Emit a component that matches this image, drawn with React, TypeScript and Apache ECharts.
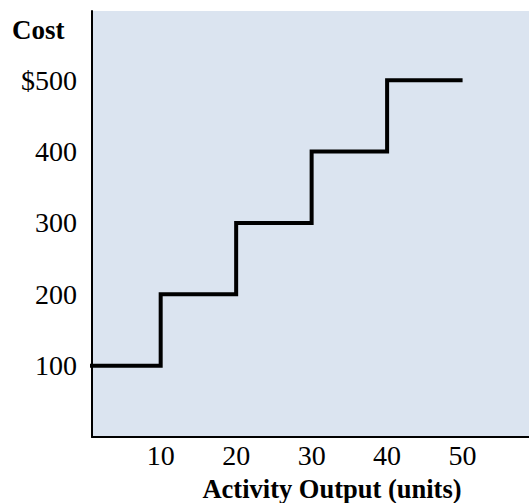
import React, { useEffect, useRef } from "react";
import * as echarts from "echarts";

// Step cost function: cost level held for each band of activity output
const outputUnits = [0, 10, 20, 30, 40, 50];
const costLevels = [100, 200, 300, 400, 500, 500];
const xTickValues = [10, 20, 30, 40, 50];
const yTickValues = [100, 200, 300, 400, 500];

const FONT = "'Liberation Serif', 'Times New Roman', serif";

export default function App() {
  const ref = useRef<HTMLDivElement>(null);

  useEffect(() => {
    if (!ref.current) return;
    const chart = echarts.init(ref.current, undefined, { renderer: "svg" });
    const points = outputUnits.map((x, i) => [x, costLevels[i]]);

    chart.setOption({
      animation: false,
      grid: {
        left: 92,
        right: 0,
        top: 11,
        bottom: 66,
        show: true,
        backgroundColor: "#dbe4f0",
        borderWidth: 0,
      },
      xAxis: {
        type: "value",
        min: 0.9,
        max: 58.8,
        splitLine: { show: false },
        axisLine: { show: true, onZero: false, lineStyle: { color: "#000", width: 2 } },
        axisTick: { show: false },
        axisLabel: {
          customValues: xTickValues,
          color: "#000",
          fontFamily: FONT,
          fontSize: 28,
          margin: 4,
        },
      },
      yAxis: {
        type: "value",
        min: 0,
        max: 597,
        splitLine: { show: false },
        axisLine: { show: true, onZero: false, lineStyle: { color: "#000", width: 2 } },
        axisTick: { show: false },
        axisLabel: {
          customValues: yTickValues,
          color: "#000",
          fontFamily: FONT,
          fontSize: 28,
          margin: 15,
          formatter: (v: number) => (v === 500 ? "$" + v : String(v)),
        },
      },
      graphic: [
        {
          type: "text",
          left: 12,
          top: 16,
          style: {
            text: "Cost",
            font: `bold 27px ${FONT}`,
            fill: "#000",
          },
        },
        {
          type: "text",
          x: 332,
          y: 489,
          style: {
            text: "Activity Output (units)",
            font: `bold 26.5px ${FONT}`,
            fill: "#000",
            align: "center",
            verticalAlign: "middle",
          },
        },
      ],
      series: [
        {
          type: "line",
          step: "end",
          data: points,
          symbol: "none",
          lineStyle: { color: "#000", width: 4, join: "miter", cap: "butt" },
        },
      ],
    });

    return () => chart.dispose();
  }, []);

  return <div ref={ref} style={{ width: 529, height: 503, position: "absolute", left: 0, top: 0 }} />;
}
